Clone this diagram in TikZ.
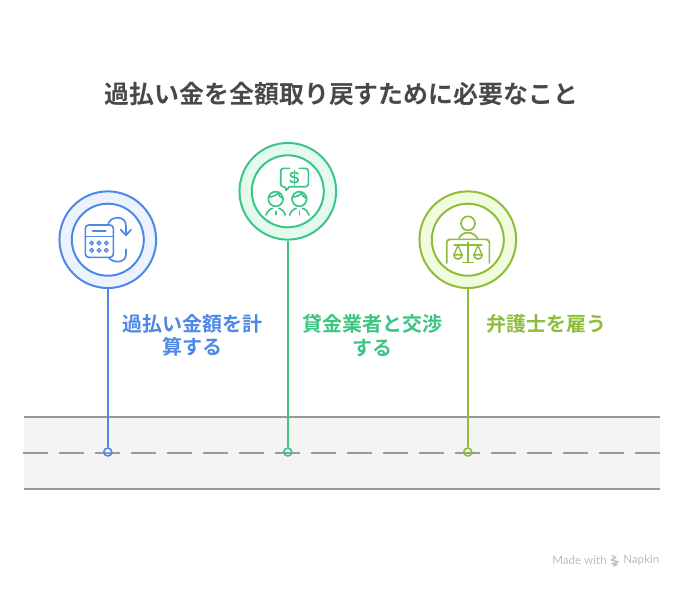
\documentclass[tikz,border=0pt]{standalone}
\usepackage{fontspec}
\setmainfont{Noto Sans CJK JP}[BoldFont={Noto Sans CJK JP Bold}]
\newfontfamily\madefont{Lato}
\definecolor{cblue}{HTML}{4E88E7}
\definecolor{cbluef}{HTML}{EDF3FE}
\definecolor{cgreen}{HTML}{3CC583}
\definecolor{cgreenf}{HTML}{E3FBEF}
\definecolor{colive}{HTML}{8FBC3A}
\definecolor{colivef}{HTML}{F1FCDE}
\definecolor{croad}{HTML}{999999}
\definecolor{croadf}{HTML}{F4F4F4}
\definecolor{ctitle}{HTML}{484848}
\definecolor{cmade}{HTML}{BDBDBD}
\tikzset{
  outerring/.style={circle,draw,line width=1.5pt,minimum size=72.5pt,inner sep=0pt},
  innerring/.style={circle,draw,line width=1.5pt,fill=white,minimum size=54pt,inner sep=0pt},
  stem/.style={line width=1.5pt},
  dotmark/.style={circle,draw,line width=1.2pt,fill=none,minimum size=6pt,inner sep=0pt},
  roadline/.style={draw=croad,line width=1.1pt},
  label/.style={font=\bfseries\fontsize{15}{18}\selectfont,align=center,anchor=center},
  icon/.style={line width=1.25pt,line cap=round,line join=round},
  thinicon/.style={line width=1pt,line cap=round,line join=round},
  madetext/.style={font=\madefont\fontsize{8.7}{10}\selectfont,text=cmade,anchor=west,inner sep=0pt}
}
\begin{document}
\begin{tikzpicture}[x=0.75pt,y=-0.75pt]
\useasboundingbox (0,0) rectangle (684,588);
\fill[white] (0,0) rectangle (684,588);
% road
\fill[croadf] (24,417) rectangle (660,489);
\coordinate (rtl) at (24,417); \coordinate (rtr) at (660,417);
\coordinate (rml) at (23,453); \coordinate (rmr) at (660,453);
\coordinate (rbl) at (24,489); \coordinate (rbr) at (660,489);
\draw[roadline] (rtl) -- (rtr);
\draw[roadline] (rbl) -- (rbr);
\draw[roadline,dash pattern=on 18.75pt off 8.25pt] (rml) -- (rmr);
% title
\node[font=\bfseries\fontsize{18.7}{22}\selectfont,text=ctitle] (title) at (341.5,94.5) {過払い金を全額取り戻すために必要なこと};
% circles
\node[outerring,draw=cblue,fill=cbluef] (c1) at (107.8,239.7) {};
\node[innerring,draw=cblue] (i1) at (107.8,239.7) {};
\node[outerring,draw=cgreen,fill=cgreenf] (c2) at (287.8,191.3) {};
\node[innerring,draw=cgreen] (i2) at (287.8,191.3) {};
\node[outerring,draw=colive,fill=colivef] (c3) at (467.8,239.7) {};
\node[innerring,draw=colive] (i3) at (467.8,239.7) {};
% dots
\node[dotmark,draw=cblue] (d1) at (107.8,452) {};
\node[dotmark,draw=cgreen] (d2) at (287.8,452) {};
\node[dotmark,draw=colive] (d3) at (467.8,452) {};
% stems
\draw[stem,cblue] (c1) -- (d1);
\draw[stem,cgreen] (c2) -- (d2);
\draw[stem,colive] (c3) -- (d3);
% labels
\node[label,text=cblue] (l1) at (192,335.5) {過払い金額を計\\[-0.5pt]算する};
\node[label,text=cgreen] (l2) at (372,335.5) {貸金業者と交渉\\[-0.5pt]する};
\node[label,text=colive] (l3) at (546.5,323.5) {弁護士を雇う};
% blue icon
\begin{scope}[shift={(50,180)},x=0.25pt,y=-0.25pt,icon]
  \draw[cblue,rounded corners=2.5pt] (106,135) rectangle (190,232);
  \draw[cblue] (106,169) -- (190,169);
  \draw[cblue] (128,153) -- (167,153);
  \foreach \px in {125,147,169}{\foreach \py in {189,211}{\draw[thinicon,cblue] (\px,\py) circle[radius=5.5];}}
  \draw[cblue] (175,130) .. controls (183,116) and (192,113) .. (202,113) .. controls (218,113) and (228,122) .. (228,138) -- (228,166);
  \draw[cblue] (212,149) -- (228,166) -- (243,149);
  \draw[cblue] (228,208) -- (228,222) .. controls (228,236) and (218,245) .. (204,245) .. controls (192,245) and (184,241) .. (176,233);
\end{scope}
% green icon
\begin{scope}[shift={(230,135)},x=0.25pt,y=-0.25pt,icon]
  \draw[cgreen,rounded corners=2pt] (178,100) -- (152,100) -- (152,155) -- (168,155) [sharp corners] -- (168,166) -- (179,155) [rounded corners=2pt] -- (235,155) -- (235,100) -- (208,100);
  \draw[cgreen] (204,117) .. controls (201,111) and (181,110) .. (181,120) .. controls (181,130) and (205,124) .. (205,135) .. controls (205,145) and (184,144) .. (181,137);
  \draw[cgreen] (193,106) -- (193,150);
  \foreach \ox in {137,208}{
    \begin{scope}[shift={(\ox,0)}]
    \draw[cgreen] (0,192) circle[radius=22];
    \draw[cgreen] (-21,186) .. controls (-8,186) and (4,180) .. (8,172);
    \draw[cgreen] (8,172) .. controls (9,182) and (13,188) .. (22,190);
    \draw[cgreen] (-29,240) .. controls (-25,228) and (-16,221) .. (-9,220);
    \draw[cgreen] (9,220) .. controls (16,221) and (25,228) .. (29,240);
    \draw[cgreen] (0,229) -- (0,239);
    \end{scope}
  }
\end{scope}
% olive icon
\begin{scope}[shift={(410,182)},x=0.25pt,y=-0.25pt,icon]
  \draw[colive] (174,124) circle[radius=21];
  \draw[colive] (147,168) .. controls (152,158) and (162,152) .. (174,152) .. controls (186,152) and (196,158) .. (202,168);
  \draw[colive,rounded corners=2.5pt] (110,243) -- (110,172) -- (238,172) -- (238,243);
  \draw[colive] (174,181) -- (174,241);
  \draw[colive] (158,241) -- (190,241);
  \draw[colive] (133,188) -- (215,188);
  \foreach \ox in {144,204}{
    \begin{scope}[shift={(\ox,0)}]
    \draw[colive] (-13,218) -- (13,218) .. controls (13,226) and (7,231) .. (0,231) .. controls (-7,231) and (-13,226) .. (-13,218) -- cycle;
    \draw[thinicon,colive] (-12,218) -- (0,190) -- (12,218);
    \end{scope}
  }
\end{scope}
% footer
\node[madetext] (made) at (552,560.5) {Made with};
\node[madetext] (nap) at (623,560.5) {Napkin};
\begin{scope}[shift={(530,540)},x=0.25pt,y=-0.25pt,line width=0.9pt,line join=round]
  \draw[cmade] (245,46) -- (258,53) -- (243,60) -- (265,65) -- (245,72) -- (262,73) -- (250,79);
\end{scope}
\end{tikzpicture}
\end{document}
